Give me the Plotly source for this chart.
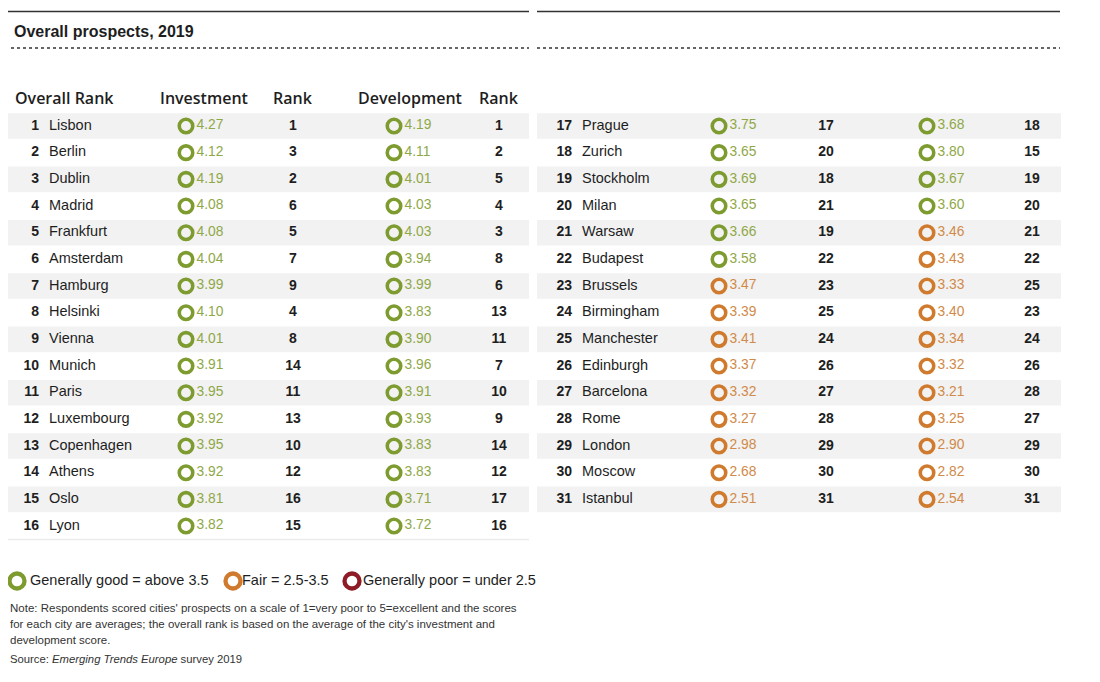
import plotly.graph_objects as go

# ---------------- data ----------------
cities = ["Lisbon", "Berlin", "Dublin", "Madrid", "Frankfurt", "Amsterdam", "Hamburg",
          "Helsinki", "Vienna", "Munich", "Paris", "Luxembourg", "Copenhagen", "Athens",
          "Oslo", "Lyon", "Prague", "Zurich", "Stockholm", "Milan", "Warsaw", "Budapest",
          "Brussels", "Birmingham", "Manchester", "Edinburgh", "Barcelona", "Rome",
          "London", "Moscow", "Istanbul"]
overall_rank = list(range(1, 32))
investment = [4.27, 4.12, 4.19, 4.08, 4.08, 4.04, 3.99, 4.10, 4.01, 3.91, 3.95, 3.92, 3.95,
              3.92, 3.81, 3.82, 3.75, 3.65, 3.69, 3.65, 3.66, 3.58, 3.47, 3.39, 3.41, 3.37,
              3.32, 3.27, 2.98, 2.68, 2.51]
investment_rank = [1, 3, 2, 6, 5, 7, 9, 4, 8, 14, 11, 13, 10, 12, 16, 15, 17, 20, 18, 21,
                   19, 22, 23, 25, 24, 26, 27, 28, 29, 30, 31]
development = [4.19, 4.11, 4.01, 4.03, 4.03, 3.94, 3.99, 3.83, 3.90, 3.96, 3.91, 3.93, 3.83,
               3.83, 3.71, 3.72, 3.68, 3.80, 3.67, 3.60, 3.46, 3.43, 3.33, 3.40, 3.34, 3.32,
               3.21, 3.25, 2.90, 2.82, 2.54]
development_rank = [1, 2, 5, 4, 3, 8, 6, 13, 11, 7, 10, 9, 14, 12, 17, 16, 18, 15, 19, 20,
                    21, 22, 25, 23, 24, 26, 28, 27, 29, 30, 31]
headers = ["Overall Rank", "Investment", "Rank", "Development", "Rank"]
legend_labels = ["Generally good = above 3.5", "Fair = 2.5-3.5", "Generally poor = under 2.5"]
title = "Overall prospects, 2019"
note_lines = [
    "Note: Respondents scored cities' prospects on a scale of 1=very poor to 5=excellent and the scores",
    "for each city are averages; the overall rank is based on the average of the city's investment and",
    "development score.",
]
source = "Source: <i>Emerging Trends Europe</i> survey 2019"

# ---------------- styling / layout ----------------
W, H = 1100, 682
OFF = 8  # page body margin: axis coords are page pixels
FONT = "Liberation Sans"
HFONT = "Open Sans"
TXT = "#1e1e1e"
RING = {"good": "#7d9b2f", "fair": "#cf7a2c", "poor": "#8e1b25"}
VAL = {"good": "#8fa848", "fair": "#d08a4a", "poor": "#9a3038"}

ROW0, PITCH = 126.0, 26.67
PER_TABLE = 16
TABLE_DX = 533
COL = dict(rank=39, city=49, inv_c=186, inv_v=196.5, inv_r=293, dev_c=394, dev_v=404.5, dev_r=499)


def cat(v):
    if v > 3.5:
        return "good"
    if v >= 2.5:
        return "fair"
    return "poor"


def pos(i):
    t = i // PER_TABLE
    r = i % PER_TABLE
    return t * TABLE_DX, ROW0 + r * PITCH


dx = [pos(i)[0] for i in range(len(cities))]
ys = [pos(i)[1] for i in range(len(cities))]

fig = go.Figure()
shapes = []

# row backgrounds
for i in range(len(cities)):
    if (i % PER_TABLE) % 2 == 0:
        x0 = 5 + dx[i] - (1 if dx[i] else 0)
        shapes.append(dict(type="rect", xref="x", yref="y", x0=x0, x1=x0 + 524,
                           y0=ys[i] - 12.8, y1=ys[i] + 12.8, fillcolor="#f2f2f2",
                           line=dict(width=0), layer="below"))
# bottom rule of left table
shapes.append(dict(type="line", xref="x", yref="y", x0=5, x1=529, y0=539.5, y1=539.5,
                   line=dict(color="#ececec", width=1.5)))
# top rules
for x0, x1 in [(5, 529), (537, 1060)]:
    shapes.append(dict(type="line", xref="x", yref="y", x0=x0, x1=x1, y0=11.5, y1=11.5,
                       line=dict(color="#333333", width=1.3)))
    shapes.append(dict(type="line", xref="x", yref="y", x0=x0, x1=x1, y0=48, y1=48,
                       line=dict(color="#333333", width=1.3, dash="dot")))


def text_trace(xs, yy, texts, pos_, size, color, bold=False, family=FONT):
    return go.Scatter(x=xs, y=yy, mode="text", text=texts, textposition=pos_,
                      textfont=dict(family=family, size=size, color=color,
                                    weight="bold" if bold else "normal"),
                      hoverinfo="skip", showlegend=False, cliponaxis=False)


# overall rank numbers (right aligned) & city names
fig.add_trace(text_trace([COL["rank"] + d for d in dx], ys, [str(r) for r in overall_rank],
                         "middle left", 14, TXT, bold=True))
fig.add_trace(text_trace([COL["city"] + d for d in dx], ys, cities, "middle right", 14.5, TXT))

for vals, ranks, c_key, v_key, r_key in [
    (investment, investment_rank, "inv_c", "inv_v", "inv_r"),
    (development, development_rank, "dev_c", "dev_v", "dev_r"),
]:
    cats = [cat(v) for v in vals]
    fig.add_trace(go.Scatter(
        x=[COL[c_key] + d for d in dx], y=ys, mode="markers",
        marker=dict(symbol="circle-open", size=13.5,
                    line=dict(width=3.6, color=[RING[c] for c in cats]),
                    color=[RING[c] for c in cats]),
        hoverinfo="skip", showlegend=False, cliponaxis=False))
    fig.add_trace(go.Scatter(
        x=[COL[v_key] + d for d in dx], y=ys, mode="text",
        text=[f"{v:.2f}" for v in vals], textposition="middle right",
        textfont=dict(family=FONT, size=13.8, color=[VAL[c] for c in cats]),
        hoverinfo="skip", showlegend=False, cliponaxis=False))
    fig.add_trace(text_trace([COL[r_key] + d for d in dx], ys, [str(r) for r in ranks],
                             "middle center", 14, TXT, bold=True))

annotations = []
# title
annotations.append(dict(x=12, y=31, xref="x", yref="y", text=title, showarrow=False,
                        xanchor="left", yanchor="middle",
                        font=dict(family=FONT, size=16, color=TXT, weight="bold")))
# headers
hx = [(13, "left"), (204, "center"), (293, "center"), (410, "center"), (499, "center")]
for (x, anc), h in zip(hx, headers):
    annotations.append(dict(x=x, y=98, xref="x", yref="y", text=h, showarrow=False,
                            xanchor=anc, yanchor="middle",
                            font=dict(family=HFONT, size=16, color=TXT, weight=600)))

# legend
leg_colors = [RING["good"], RING["fair"], RING["poor"]]
leg_circle_x = [17, 233, 352]
leg_text_x = [30, 242, 363]
fig.add_trace(go.Scatter(
    x=leg_circle_x, y=[581] * 3, mode="markers",
    marker=dict(symbol="circle-open", size=15, color=leg_colors,
                line=dict(width=4.3, color=leg_colors)),
    hoverinfo="skip", showlegend=False, cliponaxis=False))
fig.add_trace(text_trace(leg_text_x, [581] * 3, legend_labels, "middle right", 14.5, TXT))

# notes
for k, line in enumerate(note_lines):
    annotations.append(dict(x=8, y=608 + 16 * k, xref="x", yref="y", text=line,
                            showarrow=False, xanchor="left", yanchor="middle",
                            font=dict(family=FONT, size=11.5, color="#333333")))
annotations.append(dict(x=8, y=659, xref="x", yref="y", text=source, showarrow=False,
                        xanchor="left", yanchor="middle",
                        font=dict(family=FONT, size=11.3, color="#333333")))

fig.update_layout(
    width=W, height=H, margin=dict(l=0, r=0, t=0, b=0),
    paper_bgcolor="white", plot_bgcolor="white",
    xaxis=dict(range=[OFF, W + OFF], visible=False, fixedrange=True),
    yaxis=dict(range=[H + OFF, OFF], visible=False, fixedrange=True),
    shapes=shapes, annotations=annotations, showlegend=False,
)

fig.write_html("out.html")
